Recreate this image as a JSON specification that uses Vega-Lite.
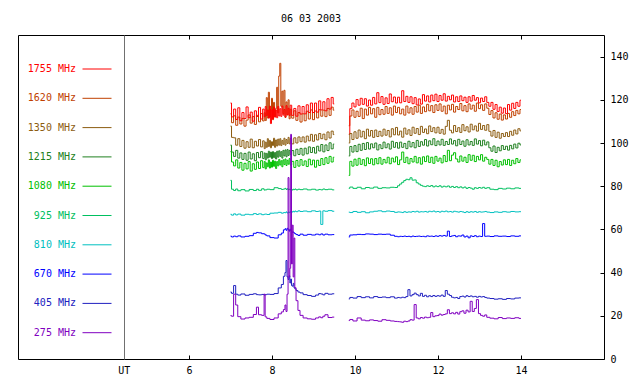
{
"$schema": "https://vega.github.io/schema/vega-lite/v6.json",
"width": 586, "height": 324,
"autosize": {"type": "none"},
"padding": {"left": 18, "top": 35, "right": 36, "bottom": 25},
"background": "white",
"title": {"text": "06 03 2003", "font": "DejaVu Sans Mono", "fontSize": 10, "fontWeight": "normal", "color": "black", "offset": 11, "anchor": "middle"},
"config": {"view": {"stroke": "black", "strokeWidth": 1}, "font": "DejaVu Sans Mono"},
"datasets": {
"hi": [
{"t":7.00,"seg":1,"f1755":118.5,"f1620":113.5,"f1350":107.8,"f1215":99.0,"f1080":96.0},
{"t":7.05,"seg":1,"f1755":112.1,"f1620":109.4,"f1350":102.6,"f1215":95.8,"f1080":91.2},
{"t":7.10,"seg":1,"f1755":115.7,"f1620":112.6,"f1350":102.4,"f1215":93.8,"f1080":89.4},
{"t":7.15,"seg":1,"f1755":110.9,"f1620":108.2,"f1350":99.0,"f1215":96.6,"f1080":92.2},
{"t":7.20,"seg":1,"f1755":116.3,"f1620":112.0,"f1350":102.0,"f1215":93.0,"f1080":88.4},
{"t":7.25,"seg":1,"f1755":110.3,"f1620":108.8,"f1350":98.4,"f1215":95.4,"f1080":91.0},
{"t":7.30,"seg":1,"f1755":114.1,"f1620":111.4,"f1350":101.2,"f1215":92.4,"f1080":87.4},
{"t":7.35,"seg":1,"f1755":111.3,"f1620":107.8,"f1350":97.6,"f1215":95.2,"f1080":90.6},
{"t":7.40,"seg":1,"f1755":116.7,"f1620":110.6,"f1350":100.6,"f1215":92.0,"f1080":88.0},
{"t":7.45,"seg":1,"f1755":111.7,"f1620":113.0,"f1350":98.0,"f1215":95.8,"f1080":91.4},
{"t":7.50,"seg":1,"f1755":114.3,"f1620":109.2,"f1350":101.8,"f1215":92.6,"f1080":87.0},
{"t":7.55,"seg":1,"f1755":110.1,"f1620":112.2,"f1350":97.8,"f1215":95.0,"f1080":90.4},
{"t":7.60,"seg":1,"f1755":114.9,"f1620":108.6,"f1350":100.8,"f1215":91.8,"f1080":87.8},
{"t":7.65,"seg":1,"f1755":112.3,"f1620":112.8,"f1350":98.6,"f1215":95.6,"f1080":91.2},
{"t":7.70,"seg":1,"f1755":116.5,"f1620":109.8,"f1350":101.6,"f1215":93.2,"f1080":88.2},
{"t":7.75,"seg":1,"f1755":111.1,"f1620":113.6,"f1350":98.2,"f1215":96.0,"f1080":91.8},
{"t":7.80,"seg":1,"f1755":115.7,"f1620":110.2,"f1350":101.0,"f1215":92.8,"f1080":88.6},
{"t":7.825,"seg":1,"f1755":112.1,"f1620":114.0,"f1350":97.4,"f1215":95.4,"f1080":91.4},
{"t":7.85,"seg":1,"f1755":116.9,"f1620":110.4,"f1350":100.4,"f1215":92.2,"f1080":88.0},
{"t":7.875,"seg":1,"f1755":112.7,"f1620":121.0,"f1350":98.0,"f1215":95.2,"f1080":90.8},
{"t":7.90,"seg":1,"f1755":115.3,"f1620":111.6,"f1350":102.0,"f1215":93.0,"f1080":89.0},
{"t":7.925,"seg":1,"f1755":111.5,"f1620":123.5,"f1350":98.4,"f1215":96.2,"f1080":92.2},
{"t":7.95,"seg":1,"f1755":117.1,"f1620":112.0,"f1350":101.2,"f1215":93.4,"f1080":88.4},
{"t":7.975,"seg":1,"f1755":109.0,"f1620":115.5,"f1350":97.8,"f1215":95.8,"f1080":91.2},
{"t":8.00,"seg":1,"f1755":115.5,"f1620":120.7,"f1350":100.6,"f1215":92.8,"f1080":88.8},
{"t":8.025,"seg":1,"f1755":111.1,"f1620":110.8,"f1350":98.8,"f1215":96.0,"f1080":92.0},
{"t":8.05,"seg":1,"f1755":116.7,"f1620":118.8,"f1350":102.2,"f1215":93.2,"f1080":89.2},
{"t":8.075,"seg":1,"f1755":112.1,"f1620":112.0,"f1350":98.0,"f1215":95.6,"f1080":91.6},
{"t":8.10,"seg":1,"f1755":115.3,"f1620":116.0,"f1350":101.4,"f1215":92.6,"f1080":88.2},
{"t":8.125,"seg":1,"f1755":111.7,"f1620":125.8,"f1350":98.6,"f1215":96.2,"f1080":91.4},
{"t":8.15,"seg":1,"f1755":116.9,"f1620":114.0,"f1350":101.8,"f1215":93.4,"f1080":89.4},
{"t":8.175,"seg":1,"f1755":112.5,"f1620":131.0,"f1350":99.0,"f1215":96.4,"f1080":92.4},
{"t":8.20,"seg":1,"f1755":115.9,"f1620":136.9,"f1350":102.0,"f1215":93.8,"f1080":89.8},
{"t":8.225,"seg":1,"f1755":112.3,"f1620":117.0,"f1350":98.8,"f1215":96.0,"f1080":91.8},
{"t":8.25,"seg":1,"f1755":117.1,"f1620":124.0,"f1350":101.2,"f1215":93.0,"f1080":89.0},
{"t":8.275,"seg":1,"f1755":112.9,"f1620":113.6,"f1350":99.4,"f1215":96.6,"f1080":92.2},
{"t":8.30,"seg":1,"f1755":115.5,"f1620":124.4,"f1350":102.2,"f1215":94.0,"f1080":90.0},
{"t":8.325,"seg":1,"f1755":112.1,"f1620":111.8,"f1350":99.0,"f1215":96.8,"f1080":92.6},
{"t":8.35,"seg":1,"f1755":117.3,"f1620":119.0,"f1350":101.6,"f1215":93.6,"f1080":89.6},
{"t":8.375,"seg":1,"f1755":113.1,"f1620":113.0,"f1350":99.8,"f1215":97.0,"f1080":92.0},
{"t":8.40,"seg":1,"f1755":116.1,"f1620":120.0,"f1350":102.6,"f1215":94.2,"f1080":90.2},
{"t":8.425,"seg":1,"f1755":112.7,"f1620":111.2,"f1350":99.6,"f1215":96.6,"f1080":92.8},
{"t":8.45,"seg":1,"f1755":117.5,"f1620":115.6,"f1350":102.0,"f1215":94.6,"f1080":89.8},
{"t":8.50,"seg":1,"f1755":112.8,"f1620":111.5,"f1350":99.6,"f1215":96.5,"f1080":91.5},
{"t":8.55,"seg":1,"f1755":116.0,"f1620":114.9,"f1350":102.4,"f1215":94.1,"f1080":88.7},
{"t":8.60,"seg":1,"f1755":112.4,"f1620":110.5,"f1350":100.0,"f1215":97.1,"f1080":91.9},
{"t":8.65,"seg":1,"f1755":117.2,"f1620":114.1,"f1350":102.8,"f1215":94.7,"f1080":89.3},
{"t":8.70,"seg":1,"f1755":113.4,"f1620":109.7,"f1350":100.6,"f1215":97.5,"f1080":92.3},
{"t":8.75,"seg":1,"f1755":116.9,"f1620":113.5,"f1350":102.8,"f1215":94.4,"f1080":89.7},
{"t":8.80,"seg":1,"f1755":113.5,"f1620":110.3,"f1350":100.4,"f1215":97.6,"f1080":91.7},
{"t":8.85,"seg":1,"f1755":117.7,"f1620":114.7,"f1350":103.2,"f1215":95.0,"f1080":89.1},
{"t":8.90,"seg":1,"f1755":114.1,"f1620":111.1,"f1350":101.0,"f1215":98.2,"f1080":92.5},
{"t":8.95,"seg":1,"f1755":118.5,"f1620":115.3,"f1350":104.0,"f1215":95.6,"f1080":89.9},
{"t":9.00,"seg":1,"f1755":114.1,"f1620":110.8,"f1350":100.8,"f1215":97.9,"f1080":92.1},
{"t":9.05,"seg":1,"f1755":118.5,"f1620":114.8,"f1350":103.8,"f1215":95.3,"f1080":88.8},
{"t":9.10,"seg":1,"f1755":114.3,"f1620":111.6,"f1350":101.4,"f1215":98.5,"f1080":92.0},
{"t":9.15,"seg":1,"f1755":119.5,"f1620":115.4,"f1350":104.4,"f1215":96.3,"f1080":89.6},
{"t":9.20,"seg":1,"f1755":115.3,"f1620":112.4,"f1350":102.0,"f1215":99.3,"f1080":92.8},
{"t":9.25,"seg":1,"f1755":119.1,"f1620":115.2,"f1350":104.1,"f1215":95.9,"f1080":90.0},
{"t":9.30,"seg":1,"f1755":114.9,"f1620":112.2,"f1350":101.5,"f1215":99.1,"f1080":93.2},
{"t":9.35,"seg":1,"f1755":120.5,"f1620":116.0,"f1350":105.1,"f1215":96.5,"f1080":90.6},
{"t":9.40,"seg":1,"f1755":115.7,"f1620":112.8,"f1350":102.3,"f1215":100.1,"f1080":93.8},
{"t":9.45,"seg":1,"f1755":121.1,"f1620":116.6,"f1350":105.5,"f1215":97.3,"f1080":91.2},
{"t":9.50,"seg":1,"f1755":118.1,"f1620":115.2,"f1350":103.9,"f1215":99.5,"f1080":93.4},
{"t":9.85,"seg":2,"f1755":104.0,"f1620":108.0,"f1350":100.0,"f1215":94.0,"f1080":85.0},
{"t":9.90,"seg":2,"f1755":115.9,"f1620":112.5,"f1350":104.4,"f1215":98.4,"f1080":91.5},
{"t":9.95,"seg":2,"f1755":118.5,"f1620":115.3,"f1350":101.6,"f1215":95.8,"f1080":89.3},
{"t":10.00,"seg":2,"f1755":116.7,"f1620":111.9,"f1350":105.2,"f1215":98.8,"f1080":92.5},
{"t":10.05,"seg":2,"f1755":120.1,"f1620":114.7,"f1350":102.2,"f1215":96.0,"f1080":89.7},
{"t":10.10,"seg":2,"f1755":117.5,"f1620":112.3,"f1350":106.0,"f1215":99.4,"f1080":92.9},
{"t":10.15,"seg":2,"f1755":120.7,"f1620":116.1,"f1350":102.8,"f1215":96.6,"f1080":90.1},
{"t":10.20,"seg":2,"f1755":117.9,"f1620":111.3,"f1350":105.4,"f1215":99.8,"f1080":92.3},
{"t":10.25,"seg":2,"f1755":120.5,"f1620":115.7,"f1350":102.0,"f1215":97.0,"f1080":89.5},
{"t":10.30,"seg":2,"f1755":117.1,"f1620":112.9,"f1350":106.4,"f1215":100.2,"f1080":93.1},
{"t":10.35,"seg":2,"f1755":119.9,"f1620":116.5,"f1350":103.2,"f1215":97.2,"f1080":90.5},
{"t":10.40,"seg":2,"f1755":117.5,"f1620":113.5,"f1350":105.8,"f1215":99.6,"f1080":92.7},
{"t":10.45,"seg":2,"f1755":121.1,"f1620":115.9,"f1350":102.6,"f1215":97.8,"f1080":89.9},
{"t":10.50,"seg":2,"f1755":118.1,"f1620":111.9,"f1350":106.0,"f1215":100.0,"f1080":92.8},
{"t":10.55,"seg":2,"f1755":123.3,"f1620":116.5,"f1350":103.0,"f1215":96.8,"f1080":90.4},
{"t":10.60,"seg":2,"f1755":118.7,"f1620":113.1,"f1350":105.4,"f1215":99.2,"f1080":93.2},
{"t":10.65,"seg":2,"f1755":121.5,"f1620":115.5,"f1350":103.2,"f1215":97.4,"f1080":90.2},
{"t":10.70,"seg":2,"f1755":117.9,"f1620":113.3,"f1350":106.4,"f1215":100.4,"f1080":92.4},
{"t":10.75,"seg":2,"f1755":120.9,"f1620":116.9,"f1350":103.6,"f1215":97.8,"f1080":90.8},
{"t":10.80,"seg":2,"f1755":118.3,"f1620":113.7,"f1350":105.8,"f1215":99.6,"f1080":93.4},
{"t":10.85,"seg":2,"f1755":122.7,"f1620":116.3,"f1350":102.8,"f1215":97.2,"f1080":90.4},
{"t":10.90,"seg":2,"f1755":119.1,"f1620":112.9,"f1350":106.6,"f1215":100.8,"f1080":93.0},
{"t":10.95,"seg":2,"f1755":121.3,"f1620":117.1,"f1350":103.8,"f1215":98.0,"f1080":91.2},
{"t":11.00,"seg":2,"f1755":118.5,"f1620":114.1,"f1350":107.2,"f1215":100.2,"f1080":93.6},
{"t":11.05,"seg":2,"f1755":121.2,"f1620":116.5,"f1350":103.7,"f1215":97.6,"f1080":90.0},
{"t":11.10,"seg":2,"f1755":118.6,"f1620":113.5,"f1350":105.5,"f1215":100.4,"f1080":92.2},
{"t":11.15,"seg":2,"f1755":124.2,"f1620":115.7,"f1350":102.7,"f1215":98.0,"f1080":95.8},
{"t":11.20,"seg":2,"f1755":119.2,"f1620":112.9,"f1350":106.9,"f1215":99.8,"f1080":91.0},
{"t":11.25,"seg":2,"f1755":121.6,"f1620":117.1,"f1350":104.1,"f1215":97.4,"f1080":93.4},
{"t":11.30,"seg":2,"f1755":118.8,"f1620":113.9,"f1350":106.1,"f1215":100.8,"f1080":90.4},
{"t":11.35,"seg":2,"f1755":121.4,"f1620":116.3,"f1350":103.5,"f1215":98.2,"f1080":92.8},
{"t":11.40,"seg":2,"f1755":118.2,"f1620":113.3,"f1350":107.3,"f1215":100.2,"f1080":91.2},
{"t":11.45,"seg":2,"f1755":121.0,"f1620":116.9,"f1350":104.5,"f1215":97.8,"f1080":93.8},
{"t":11.50,"seg":2,"f1755":117.6,"f1620":114.3,"f1350":106.7,"f1215":101.2,"f1080":90.8},
{"t":11.55,"seg":2,"f1755":120.4,"f1620":117.5,"f1350":103.9,"f1215":98.4,"f1080":93.2},
{"t":11.60,"seg":2,"f1755":118.0,"f1620":113.7,"f1350":107.7,"f1215":100.6,"f1080":90.2},
{"t":11.65,"seg":2,"f1755":122.4,"f1620":116.7,"f1350":104.9,"f1215":99.0,"f1080":93.6},
{"t":11.70,"seg":2,"f1755":119.4,"f1620":114.5,"f1350":106.5,"f1215":101.6,"f1080":91.4},
{"t":11.75,"seg":2,"f1755":121.8,"f1620":117.9,"f1350":104.3,"f1215":98.6,"f1080":94.0},
{"t":11.80,"seg":2,"f1755":119.0,"f1620":114.9,"f1350":107.9,"f1215":101.0,"f1080":91.0},
{"t":11.85,"seg":2,"f1755":122.2,"f1620":117.3,"f1350":105.3,"f1215":99.2,"f1080":93.4},
{"t":11.90,"seg":2,"f1755":119.6,"f1620":114.1,"f1350":107.1,"f1215":102.0,"f1080":90.6},
{"t":11.95,"seg":2,"f1755":122.6,"f1620":117.7,"f1350":104.7,"f1215":98.8,"f1080":93.8},
{"t":12.00,"seg":2,"f1755":119.2,"f1620":115.1,"f1350":107.3,"f1215":100.9,"f1080":91.6},
{"t":12.05,"seg":2,"f1755":122.0,"f1620":118.1,"f1350":104.5,"f1215":99.1,"f1080":93.0},
{"t":12.10,"seg":2,"f1755":119.8,"f1620":114.7,"f1350":106.3,"f1215":101.7,"f1080":90.8},
{"t":12.15,"seg":2,"f1755":122.8,"f1620":117.1,"f1350":104.1,"f1215":98.9,"f1080":94.2},
{"t":12.20,"seg":2,"f1755":119.4,"f1620":113.5,"f1350":107.7,"f1215":100.7,"f1080":91.4},
{"t":12.25,"seg":2,"f1755":121.6,"f1620":117.5,"f1350":110.5,"f1215":99.3,"f1080":96.6},
{"t":12.30,"seg":2,"f1755":120.0,"f1620":115.3,"f1350":105.9,"f1215":101.9,"f1080":91.8},
{"t":12.35,"seg":2,"f1755":122.2,"f1620":117.9,"f1350":104.7,"f1215":99.5,"f1080":94.4},
{"t":12.40,"seg":2,"f1755":119.0,"f1620":114.3,"f1350":108.1,"f1215":101.1,"f1080":95.5},
{"t":12.45,"seg":2,"f1755":121.4,"f1620":116.9,"f1350":105.3,"f1215":98.7,"f1080":92.6},
{"t":12.50,"seg":2,"f1755":119.2,"f1620":115.5,"f1350":107.1,"f1215":101.7,"f1080":91.2},
{"t":12.55,"seg":2,"f1755":121.8,"f1620":118.3,"f1350":104.9,"f1215":99.3,"f1080":94.0},
{"t":12.60,"seg":2,"f1755":119.6,"f1620":114.9,"f1350":108.5,"f1215":100.9,"f1080":91.6},
{"t":12.65,"seg":2,"f1755":121.2,"f1620":117.3,"f1350":105.7,"f1215":98.5,"f1080":93.4},
{"t":12.70,"seg":2,"f1755":118.8,"f1620":114.5,"f1350":107.5,"f1215":101.5,"f1080":91.0},
{"t":12.75,"seg":2,"f1755":121.4,"f1620":118.1,"f1350":105.1,"f1215":99.1,"f1080":94.6},
{"t":12.80,"seg":2,"f1755":119.4,"f1620":115.7,"f1350":108.7,"f1215":100.7,"f1080":92.0},
{"t":12.85,"seg":2,"f1755":122.0,"f1620":117.5,"f1350":106.1,"f1215":98.9,"f1080":94.3},
{"t":12.90,"seg":2,"f1755":119.8,"f1620":114.7,"f1350":107.9,"f1215":101.9,"f1080":91.4},
{"t":12.95,"seg":2,"f1755":121.0,"f1620":118.5,"f1350":105.5,"f1215":99.5,"f1080":93.8},
{"t":13.00,"seg":2,"f1755":118.6,"f1620":115.9,"f1350":109.1,"f1215":101.1,"f1080":92.2},
{"t":13.05,"seg":2,"f1755":120.8,"f1620":117.7,"f1350":106.3,"f1215":98.7,"f1080":94.6},
{"t":13.10,"seg":2,"f1755":119.2,"f1620":115.1,"f1350":108.1,"f1215":101.3,"f1080":91.6},
{"t":13.15,"seg":2,"f1755":121.4,"f1620":118.1,"f1350":105.9,"f1215":99.1,"f1080":93.4},
{"t":13.20,"seg":2,"f1755":118.8,"f1620":116.1,"f1350":108.5,"f1215":100.5,"f1080":92.4},
{"t":13.25,"seg":2,"f1755":117.0,"f1620":113.2,"f1350":105.4,"f1215":97.8,"f1080":90.2},
{"t":13.30,"seg":2,"f1755":118.8,"f1620":115.0,"f1350":103.2,"f1215":96.2,"f1080":92.4},
{"t":13.35,"seg":2,"f1755":115.6,"f1620":111.6,"f1350":105.8,"f1215":98.6,"f1080":89.6},
{"t":13.40,"seg":2,"f1755":117.8,"f1620":114.0,"f1350":102.6,"f1215":95.6,"f1080":92.0},
{"t":13.45,"seg":2,"f1755":114.6,"f1620":111.0,"f1350":105.0,"f1215":98.0,"f1080":89.0},
{"t":13.50,"seg":2,"f1755":116.6,"f1620":113.4,"f1350":102.2,"f1215":96.4,"f1080":91.4},
{"t":13.55,"seg":2,"f1755":113.8,"f1620":110.6,"f1350":104.4,"f1215":98.8,"f1080":89.8},
{"t":13.60,"seg":2,"f1755":116.2,"f1620":113.0,"f1350":103.0,"f1215":97.0,"f1080":92.2},
{"t":13.65,"seg":2,"f1755":113.6,"f1620":111.1,"f1350":104.8,"f1215":98.5,"f1080":90.0},
{"t":13.70,"seg":2,"f1755":117.8,"f1620":113.7,"f1350":103.0,"f1215":96.7,"f1080":92.4},
{"t":13.75,"seg":2,"f1755":115.2,"f1620":111.9,"f1350":105.4,"f1215":98.9,"f1080":89.6},
{"t":13.80,"seg":2,"f1755":118.4,"f1620":114.5,"f1350":103.6,"f1215":97.3,"f1080":92.0},
{"t":13.85,"seg":2,"f1755":116.0,"f1620":112.7,"f1350":106.0,"f1215":99.5,"f1080":90.4},
{"t":13.90,"seg":2,"f1755":118.8,"f1620":115.1,"f1350":104.2,"f1215":97.7,"f1080":92.8},
{"t":13.95,"seg":2,"f1755":117.0,"f1620":113.5,"f1350":106.6,"f1215":99.9,"f1080":91.0},
{"t":14.00,"seg":2,"f1755":119.8,"f1620":115.5,"f1350":105.6,"f1215":99.1,"f1080":92.2}
],
"lo": [
{"t":7.00,"seg":1,"f925":82.7,"f810":67.0,"f670":56.9,"f405":31.0,"f275":20.1},
{"t":7.05,"seg":1,"f925":78.6,"f810":66.6,"f670":56.5,"f405":30.4,"f275":19.8},
{"t":7.10,"seg":1,"f925":78.0,"f810":67.2,"f670":56.9,"f405":34.0,"f275":30.0},
{"t":7.15,"seg":1,"f925":78.7,"f810":66.7,"f670":56.6,"f405":30.0,"f275":25.0},
{"t":7.20,"seg":1,"f925":77.9,"f810":67.1,"f670":57.0,"f405":29.6,"f275":19.6},
{"t":7.30,"seg":1,"f925":78.4,"f810":66.6,"f670":56.5,"f405":30.1,"f275":18.5},
{"t":7.40,"seg":1,"f925":77.8,"f810":67.0,"f670":56.8,"f405":29.5,"f275":19.0},
{"t":7.50,"seg":1,"f925":78.5,"f810":66.8,"f670":57.1,"f405":29.9,"f275":19.3},
{"t":7.60,"seg":1,"f925":78.0,"f810":67.3,"f670":58.2,"f405":30.2,"f275":20.6},
{"t":7.65,"seg":1,"f925":78.6,"f810":66.9,"f670":58.6,"f405":29.8,"f275":24.0},
{"t":7.70,"seg":1,"f925":78.1,"f810":67.2,"f670":58.4,"f405":29.7,"f275":20.5},
{"t":7.80,"seg":1,"f925":78.8,"f810":66.8,"f670":58.0,"f405":29.9,"f275":20.2},
{"t":7.82,"seg":1,"f925":78.2,"f810":67.0,"f670":57.9,"f405":29.6,"f275":30.0},
{"t":7.85,"seg":1,"f925":78.3,"f810":67.1,"f670":57.4,"f405":29.8,"f275":19.5},
{"t":7.90,"seg":1,"f925":78.6,"f810":66.9,"f670":57.0,"f405":30.0,"f275":18.8},
{"t":8.00,"seg":1,"f925":78.4,"f810":67.5,"f670":56.2,"f405":29.9,"f275":18.3},
{"t":8.10,"seg":1,"f925":79.3,"f810":67.6,"f670":56.0,"f405":30.3,"f275":19.0},
{"t":8.20,"seg":1,"f925":78.9,"f810":67.9,"f670":57.5,"f405":32.9,"f275":20.9},
{"t":8.25,"seg":1,"f925":78.5,"f810":67.5,"f670":58.3,"f405":34.5,"f275":21.8},
{"t":8.30,"seg":1,"f925":78.7,"f810":67.8,"f670":59.8,"f405":38.3,"f275":22.9},
{"t":8.325,"seg":1,"f925":79.0,"f810":67.7,"f670":60.3,"f405":40.0,"f275":25.0},
{"t":8.35,"seg":1,"f925":78.5,"f810":68.1,"f670":59.6,"f405":45.6,"f275":22.0},
{"t":8.375,"seg":1,"f925":78.8,"f810":67.6,"f670":60.5,"f405":38.0,"f275":30.0},
{"t":8.40,"seg":1,"f925":78.4,"f810":68.0,"f670":59.9,"f405":36.8,"f275":84.0},
{"t":8.42,"seg":1,"f925":78.6,"f810":67.8,"f670":59.2,"f405":38.5,"f275":38.0},
{"t":8.44,"seg":1,"f925":78.3,"f810":68.2,"f670":60.1,"f405":35.2,"f275":42.0},
{"t":8.46,"seg":1,"f925":78.7,"f810":67.9,"f670":59.4,"f405":37.0,"f275":104.0},
{"t":8.48,"seg":1,"f925":78.5,"f810":68.3,"f670":59.0,"f405":34.0,"f275":44.0},
{"t":8.50,"seg":1,"f925":78.2,"f810":68.0,"f670":58.6,"f405":33.7,"f275":62.0},
{"t":8.52,"seg":1,"f925":78.6,"f810":68.4,"f670":58.8,"f405":35.0,"f275":38.0},
{"t":8.54,"seg":1,"f925":78.4,"f810":68.1,"f670":58.3,"f405":33.0,"f275":56.0},
{"t":8.56,"seg":1,"f925":78.7,"f810":68.5,"f670":58.0,"f405":32.5,"f275":33.0},
{"t":8.60,"seg":1,"f925":78.3,"f810":68.2,"f670":57.6,"f405":31.7,"f275":27.0},
{"t":8.65,"seg":1,"f925":78.6,"f810":68.6,"f670":57.2,"f405":31.0,"f275":22.5},
{"t":8.70,"seg":1,"f925":78.4,"f810":68.3,"f670":57.8,"f405":30.6,"f275":20.2},
{"t":8.80,"seg":1,"f925":78.7,"f810":68.5,"f670":57.3,"f405":29.8,"f275":19.0},
{"t":8.90,"seg":1,"f925":78.3,"f810":68.2,"f670":57.7,"f405":29.4,"f275":18.6},
{"t":9.00,"seg":1,"f925":78.6,"f810":68.6,"f670":57.4,"f405":29.0,"f275":18.4},
{"t":9.10,"seg":1,"f925":78.2,"f810":68.3,"f670":57.8,"f405":29.6,"f275":19.0},
{"t":9.15,"seg":1,"f925":78.5,"f810":68.5,"f670":57.5,"f405":30.3,"f275":19.5},
{"t":9.20,"seg":1,"f925":78.3,"f810":62.3,"f670":57.9,"f405":30.1,"f275":19.1},
{"t":9.25,"seg":1,"f925":78.7,"f810":68.6,"f670":57.4,"f405":29.7,"f275":19.8},
{"t":9.30,"seg":1,"f925":78.4,"f810":68.4,"f670":57.8,"f405":30.4,"f275":20.5},
{"t":9.40,"seg":1,"f925":78.6,"f810":68.7,"f670":57.5,"f405":30.0,"f275":19.2},
{"t":9.50,"seg":1,"f925":78.3,"f810":68.4,"f670":57.6,"f405":30.2,"f275":19.4},
{"t":9.85,"seg":2,"f925":79.0,"f810":68.0,"f670":56.5,"f405":27.8,"f275":17.8},
{"t":9.90,"seg":2,"f925":79.6,"f810":67.8,"f670":57.4,"f405":28.5,"f275":18.3},
{"t":10.0,"seg":2,"f925":79.0,"f810":68.3,"f670":57.5,"f405":28.2,"f275":17.6},
{"t":10.1,"seg":2,"f925":79.5,"f810":67.9,"f670":57.7,"f405":28.9,"f275":19.0},
{"t":10.2,"seg":2,"f925":78.8,"f810":68.2,"f670":57.6,"f405":28.4,"f275":18.0},
{"t":10.3,"seg":2,"f925":79.4,"f810":67.7,"f670":57.9,"f405":28.8,"f275":17.7},
{"t":10.4,"seg":2,"f925":79.1,"f810":68.1,"f670":57.8,"f405":28.3,"f275":18.1},
{"t":10.5,"seg":2,"f925":79.6,"f810":68.4,"f670":57.6,"f405":28.9,"f275":17.8},
{"t":10.6,"seg":2,"f925":79.0,"f810":68.6,"f670":57.8,"f405":28.5,"f275":17.5},
{"t":10.7,"seg":2,"f925":79.3,"f810":68.2,"f670":57.7,"f405":28.7,"f275":18.2},
{"t":10.8,"seg":2,"f925":79.2,"f810":68.5,"f670":57.8,"f405":28.4,"f275":17.9},
{"t":10.9,"seg":2,"f925":79.5,"f810":68.3,"f670":57.3,"f405":28.8,"f275":17.6},
{"t":11.00,"seg":2,"f925":79.4,"f810":67.9,"f670":56.8,"f405":28.2,"f275":17.4},
{"t":11.05,"seg":2,"f925":80.2,"f810":68.1,"f670":56.6,"f405":28.5,"f275":17.3},
{"t":11.10,"seg":2,"f925":81.0,"f810":68.0,"f670":56.8,"f405":28.3,"f275":17.2},
{"t":11.15,"seg":2,"f925":81.8,"f810":67.8,"f670":56.7,"f405":28.6,"f275":17.0},
{"t":11.20,"seg":2,"f925":82.6,"f810":68.2,"f670":56.9,"f405":28.4,"f275":17.5},
{"t":11.25,"seg":2,"f925":83.2,"f810":67.9,"f670":56.7,"f405":28.9,"f275":17.3},
{"t":11.30,"seg":2,"f925":83.0,"f810":68.1,"f670":56.8,"f405":32.1,"f275":17.6},
{"t":11.35,"seg":2,"f925":83.9,"f810":68.0,"f670":56.6,"f405":29.2,"f275":18.2},
{"t":11.40,"seg":2,"f925":82.8,"f810":68.3,"f670":56.9,"f405":29.8,"f275":18.0},
{"t":11.45,"seg":2,"f925":82.9,"f810":68.1,"f670":56.7,"f405":30.5,"f275":25.2},
{"t":11.50,"seg":2,"f925":81.6,"f810":68.4,"f670":56.8,"f405":29.8,"f275":19.0},
{"t":11.55,"seg":2,"f925":81.0,"f810":68.0,"f670":56.9,"f405":29.2,"f275":18.6},
{"t":11.60,"seg":2,"f925":80.4,"f810":68.2,"f670":56.7,"f405":30.4,"f275":19.2},
{"t":11.65,"seg":2,"f925":80.0,"f810":68.1,"f670":56.8,"f405":29.0,"f275":18.9},
{"t":11.70,"seg":2,"f925":79.8,"f810":68.3,"f670":56.6,"f405":29.5,"f275":19.4},
{"t":11.75,"seg":2,"f925":80.2,"f810":68.0,"f670":57.0,"f405":28.8,"f275":19.1},
{"t":11.80,"seg":2,"f925":79.9,"f810":68.4,"f670":56.8,"f405":29.3,"f275":19.3},
{"t":11.85,"seg":2,"f925":80.3,"f810":68.2,"f670":56.9,"f405":28.9,"f275":21.5},
{"t":11.90,"seg":2,"f925":79.7,"f810":68.5,"f670":56.7,"f405":29.4,"f275":19.6},
{"t":11.95,"seg":2,"f925":80.1,"f810":68.1,"f670":57.0,"f405":29.0,"f275":20.0},
{"t":12.00,"seg":2,"f925":79.8,"f810":68.3,"f670":56.8,"f405":29.3,"f275":20.1},
{"t":12.05,"seg":2,"f925":80.2,"f810":68.0,"f670":57.1,"f405":29.1,"f275":20.8},
{"t":12.10,"seg":2,"f925":79.6,"f810":68.4,"f670":56.9,"f405":29.6,"f275":20.3},
{"t":12.15,"seg":2,"f925":80.0,"f810":68.2,"f670":57.2,"f405":29.0,"f275":20.6},
{"t":12.20,"seg":2,"f925":79.7,"f810":68.5,"f670":56.9,"f405":31.7,"f275":20.9},
{"t":12.25,"seg":2,"f925":80.1,"f810":68.1,"f670":59.2,"f405":30.0,"f275":22.8},
{"t":12.30,"seg":2,"f925":79.5,"f810":68.3,"f670":56.7,"f405":29.4,"f275":21.0},
{"t":12.35,"seg":2,"f925":79.9,"f810":68.0,"f670":57.0,"f405":28.6,"f275":21.4},
{"t":12.40,"seg":2,"f925":79.4,"f810":68.4,"f670":57.2,"f405":28.3,"f275":20.9},
{"t":12.45,"seg":2,"f925":79.8,"f810":68.2,"f670":56.6,"f405":28.5,"f275":21.6},
{"t":12.50,"seg":2,"f925":79.3,"f810":68.0,"f670":57.0,"f405":28.0,"f275":20.8},
{"t":12.55,"seg":2,"f925":79.7,"f810":68.3,"f670":56.9,"f405":28.9,"f275":21.9},
{"t":12.60,"seg":2,"f925":79.2,"f810":68.1,"f670":57.4,"f405":29.1,"f275":22.3},
{"t":12.65,"seg":2,"f925":79.6,"f810":67.8,"f670":56.5,"f405":28.7,"f275":21.2},
{"t":12.70,"seg":2,"f925":79.0,"f810":68.2,"f670":56.9,"f405":29.3,"f275":22.6},
{"t":12.75,"seg":2,"f925":79.4,"f810":67.9,"f670":56.1,"f405":28.9,"f275":21.8},
{"t":12.80,"seg":2,"f925":79.1,"f810":68.2,"f670":57.0,"f405":29.2,"f275":26.7},
{"t":12.85,"seg":2,"f925":78.6,"f810":68.0,"f670":56.7,"f405":28.8,"f275":22.0},
{"t":12.90,"seg":2,"f925":79.3,"f810":68.3,"f670":57.1,"f405":29.0,"f275":23.4},
{"t":12.95,"seg":2,"f925":79.0,"f810":67.9,"f670":56.6,"f405":28.6,"f275":27.5},
{"t":13.00,"seg":2,"f925":79.4,"f810":68.2,"f670":56.9,"f405":29.0,"f275":21.0},
{"t":13.05,"seg":2,"f925":79.1,"f810":68.0,"f670":56.7,"f405":28.7,"f275":20.2},
{"t":13.10,"seg":2,"f925":79.5,"f810":68.1,"f670":62.7,"f405":28.9,"f275":19.8},
{"t":13.15,"seg":2,"f925":79.0,"f810":68.3,"f670":56.8,"f405":28.5,"f275":20.4},
{"t":13.20,"seg":2,"f925":79.3,"f810":68.0,"f670":56.9,"f405":28.2,"f275":19.3},
{"t":13.3,"seg":2,"f925":78.6,"f810":67.8,"f670":56.7,"f405":28.0,"f275":18.9},
{"t":13.4,"seg":2,"f925":78.4,"f810":68.1,"f670":57.0,"f405":27.7,"f275":18.6},
{"t":13.5,"seg":2,"f925":79.0,"f810":67.9,"f670":56.8,"f405":27.9,"f275":19.2},
{"t":13.6,"seg":2,"f925":78.7,"f810":68.2,"f670":56.9,"f405":27.6,"f275":18.7},
{"t":13.7,"seg":2,"f925":79.1,"f810":68.0,"f670":56.7,"f405":28.0,"f275":19.0},
{"t":13.8,"seg":2,"f925":78.8,"f810":68.3,"f670":57.0,"f405":27.8,"f275":18.8},
{"t":13.9,"seg":2,"f925":79.2,"f810":68.1,"f670":56.8,"f405":28.2,"f275":19.1},
{"t":14.0,"seg":2,"f925":79.0,"f810":68.2,"f670":57.0,"f405":28.3,"f275":18.8}
]
},
"resolve": {"axis": {"x": "independent", "y": "independent"}},
"layer": [
{
"data": {"name": "hi"},
"transform": [{"fold": ["f1620", "f1755", "f1350", "f1215", "f1080"], "as": ["s", "v"]}],
"mark": {"type": "line", "strokeWidth": 1, "interpolate": "step"},
"encoding": {
"x": {"field": "t", "type": "quantitative", "scale": {"domain": [1.88, 16], "nice": false, "zero": false},
"axis": {"orient": "bottom", "values": [4.43, 6, 8, 10, 12, 14], "labelExpr": "datum.value < 5 ? 'UT' : datum.label", "grid": true, "gridColor": "#707070", "gridOpacity": {"condition": {"test": "datum.value < 5", "value": 1}, "value": 0}, "tickOpacity": {"condition": {"test": "datum.value < 5", "value": 0}, "value": 1}, "tickSize": -4, "tickColor": "black", "domain": false, "labelPadding": 10, "labelFont": "DejaVu Sans Mono", "labelFontSize": 10, "labelColor": "black", "title": null, "labelFlush": false, "labelOverlap": false}},
"y": {"field": "v", "type": "quantitative", "scale": {"domain": [0, 150], "nice": false},
"axis": {"orient": "right", "values": [0, 20, 40, 60, 80, 100, 120, 140], "tickSize": -4, "tickColor": "black", "domain": false, "grid": false, "labelPadding": 10, "labelFont": "DejaVu Sans Mono", "labelFontSize": 10, "labelColor": "black", "title": null, "labelFlush": false}},
"color": {"field": "s", "type": "nominal",
"scale": {"domain": ["f1755", "f1620", "f1350", "f1215", "f1080", "f925", "f810", "f670", "f405", "f275"], "range": ["#ff0000", "#c04000", "#8c5c10", "#208020", "#00c000", "#00c060", "#00c0c0", "#0000ff", "#2020c0", "#8000c0"]},
"legend": {"orient": "none", "legendX": 64, "legendY": 19, "title": null, "symbolType": "stroke", "symbolSize": 841, "symbolStrokeWidth": 1, "labelAlign": "right", "labelOffset": -36, "labelFont": "DejaVu Sans Mono", "labelFontSize": 10, "rowPadding": 9.3, "padding": 0, "labelExpr": "substring(datum.label, 1) + ' MHz'", "encode": {"labels": {"update": {"fill": {"scale": "color", "field": "value"}}}}}},
"detail": {"field": "seg", "type": "nominal"}
}
},
{
"data": {"name": "lo"},
"transform": [{"fold": ["f925", "f810", "f670", "f405", "f275"], "as": ["s", "v"]}],
"mark": {"type": "line", "strokeWidth": 1, "interpolate": "step"},
"encoding": {
"x": {"field": "t", "type": "quantitative", "axis": {"orient": "top", "values": [6, 8, 10, 12, 14], "labels": false, "tickSize": -4, "tickColor": "black", "domain": false, "grid": false, "title": null}},
"y": {"field": "v", "type": "quantitative", "axis": null},
"color": {"field": "s", "type": "nominal"},
"detail": {"field": "seg", "type": "nominal"}
}
}
]
}
